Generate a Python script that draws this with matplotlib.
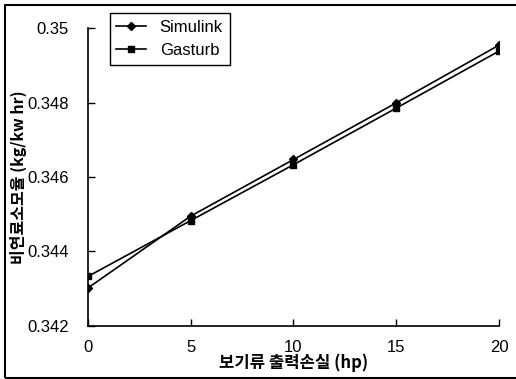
import matplotlib.pyplot as plt
from matplotlib.patches import Rectangle

plt.rcParams['font.family'] = ['Liberation Sans', 'Noto Sans CJK KR', 'DejaVu Sans']

loss_hp = [0, 5, 10, 15, 20]
simulink = [0.34302, 0.34495, 0.34647, 0.34799, 0.34954]
gasturb = [0.34333, 0.34483, 0.34633, 0.34785, 0.34938]

y_ticks = [0.342, 0.344, 0.346, 0.348, 0.35]
y_labels = ["0.342", "0.344", "0.346", "0.348", "0.35"]
x_ticks = [0, 5, 10, 15, 20]

fig = plt.figure(figsize=(5.16, 3.79), dpi=100)
ax = fig.add_axes([0.1705, 0.140, 0.7965, 0.786])

ax.plot(loss_hp, simulink, color="black", linewidth=1.2, marker="D",
        markersize=4, label="Simulink")
ax.plot(loss_hp, gasturb, color="black", linewidth=1.2, marker="s",
        markersize=5, label="Gasturb")

ax.set_xlim(0, 20)
ax.set_ylim(0.342, 0.35)
ax.set_xticks(x_ticks)
ax.set_yticks(y_ticks)
ax.set_yticklabels(y_labels)
ax.tick_params(direction="in", length=5, width=1, labelsize=12, pad=14)
ax.tick_params(axis="x", pad=10)
for s in ["top", "right"]:
    ax.spines[s].set_visible(False)
for s in ["left", "bottom"]:
    ax.spines[s].set_linewidth(1.2)

ax.set_xlabel("보기류 출력손실 (hp)", fontsize=12, fontweight="bold",
              family=['Noto Sans CJK KR', 'Liberation Sans'], labelpad=-1)
ax.set_ylabel("비연료소모율 (kg/kw hr)", fontsize=11.5, fontweight="bold",
              family=['Noto Sans CJK KR', 'Liberation Sans'], labelpad=0)

leg = ax.legend(loc="upper left", bbox_to_anchor=(0.053, 1.05), fontsize=12,
                fancybox=False, edgecolor="black", framealpha=1,
                handlelength=1.8, borderpad=0.4, labelspacing=0.5,
                borderaxespad=0)
leg.get_frame().set_linewidth(1.0)

fig.patches.append(Rectangle((0.01, 0.003), 1.2, 0.984, transform=fig.transFigure,
                             fill=False, edgecolor="black", linewidth=1.5))

fig.savefig("out.png", dpi=100)
